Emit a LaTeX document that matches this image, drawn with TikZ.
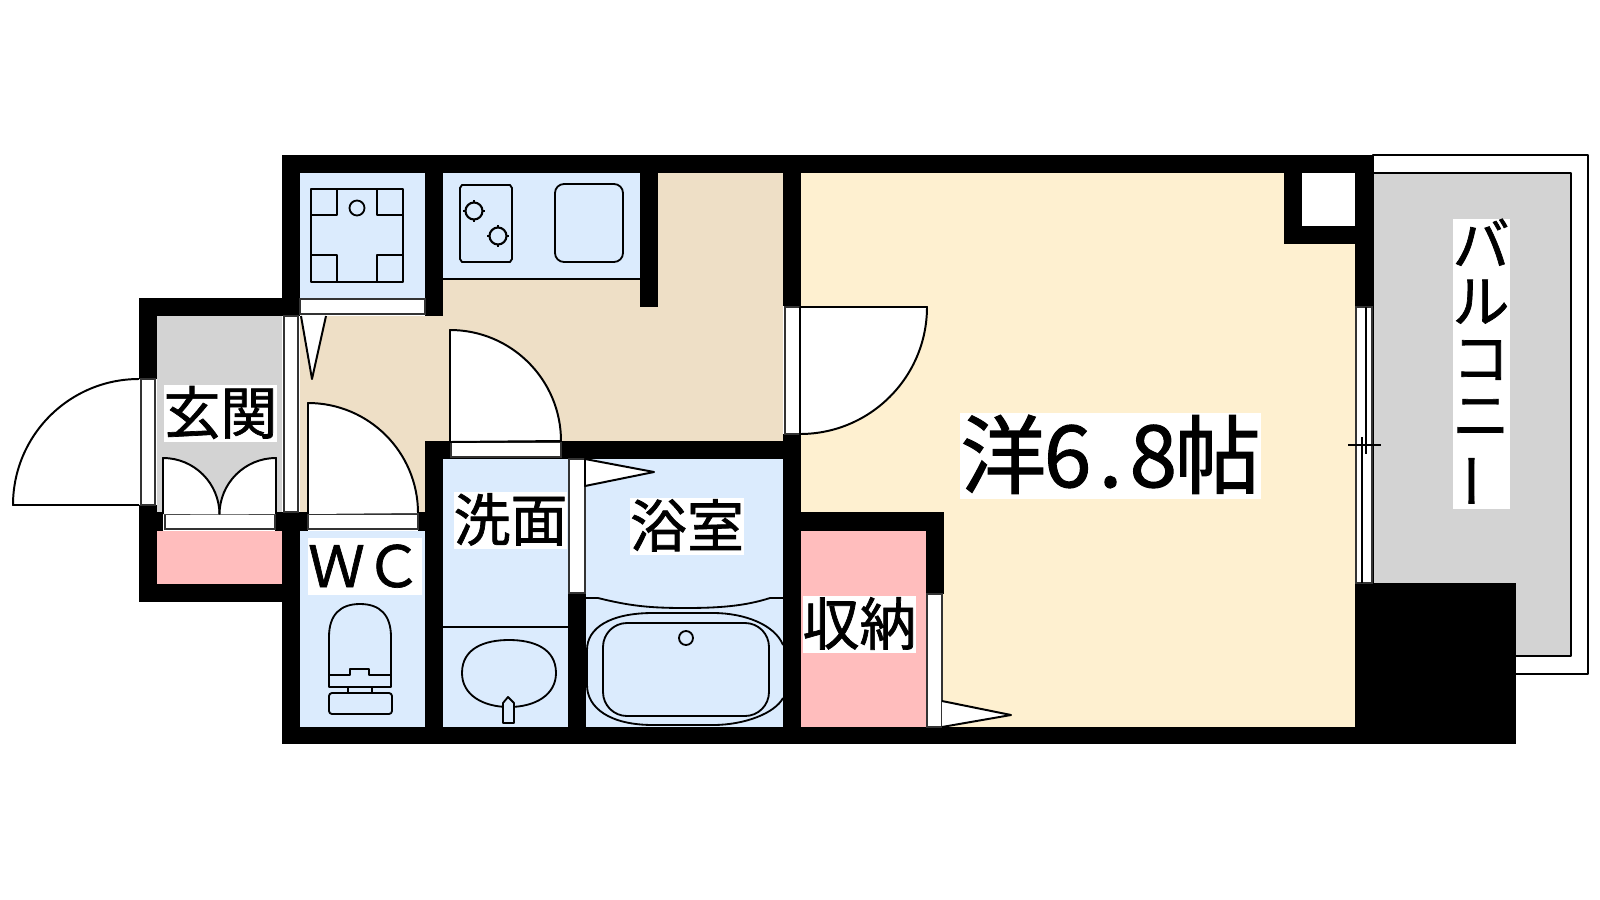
\documentclass[tikz,border=0pt]{standalone}
\usepackage{fontspec}
\setmainfont[FakeBold=1.2]{Noto Sans CJK JP}
\usepackage{tikz}
\definecolor{bluefloor}{RGB}{219,235,253}
\definecolor{beigefloor}{RGB}{238,223,198}
\definecolor{creamfloor}{RGB}{254,240,208}
\definecolor{pinkfloor}{RGB}{255,189,189}
\definecolor{greyfloor}{RGB}{211,211,211}
\tikzstyle{wall} = [fill=black]
\tikzstyle{fixture} = [draw=black, line width=2.6pt, line join=round]
\tikzstyle{doorline} = [draw=black!80, line width=2pt, fill=white]
\tikzstyle{leaf} = [draw=black, line width=2.8pt, fill=white, line join=round]
\tikzstyle{roomtext} = [fill=white, inner sep=0pt, text height=2.45cm, text depth=0.4cm,
font=\fontsize{81pt}{81pt}\selectfont]
\tikzstyle{bigtext} = [fill=white, inner sep=0pt, text height=3.7cm, text depth=0.6cm,
font=\fontsize{122pt}{122pt}\selectfont]
\begin{document}
\begin{tikzpicture}[x=0.05cm, y=-0.05cm]
    \path[fill=white, use as bounding box] (0,0) rectangle (1600,900);

    % floors
    \fill[bluefloor] (300,173) rectangle (425,299);
    \fill[bluefloor] (443,173) rectangle (640,279);
    \fill[bluefloor] (300,531) rectangle (425,727);
    \fill[bluefloor] (443,459) rectangle (568,727);
    \fill[bluefloor] (586,459) rectangle (783,727);
    \fill[beigefloor] (300,316) rectangle (425,512);
    \fill[beigefloor] (425,279) rectangle (783,441);
    \fill[beigefloor] (658,173) rectangle (783,279);
    \fill[greyfloor] (157,316) rectangle (282,512);
    \fill[pinkfloor] (157,531) rectangle (282,584);
    \fill[creamfloor] (801,173) rectangle (1355,727);
    \fill[pinkfloor] (801,531) rectangle (926,727);
    \draw[fixture, fill=white] (1373,155) rectangle (1588,674);
    \draw[fixture, fill=greyfloor] (1373,173) rectangle (1571,656);

    % walls
    \fill[wall] (282,155) rectangle (1373,173);
    \fill[wall] (282,155) rectangle (300,316);
    \fill[wall] (425,155) rectangle (443,316);
    \fill[wall] (640,173) rectangle (658,307);
    \fill[wall] (783,173) rectangle (801,306);
    \fill[wall] (783,434) rectangle (801,744);
    \fill[wall] (139,298) rectangle (300,316);
    \fill[wall] (139,298) rectangle (157,379);
    \fill[wall] (139,505) rectangle (157,602);
    \fill[wall] (139,584) rectangle (282,602);
    \fill[wall] (157,512) rectangle (163,531);
    \fill[wall] (275,512) rectangle (308,531);
    \fill[wall] (418,512) rectangle (425,531);
    \fill[wall] (282,512) rectangle (300,744);
    \fill[wall] (425,441) rectangle (443,744);
    \fill[wall] (425,441) rectangle (801,459);
    \fill[wall] (568,593) rectangle (586,744);
    \fill[wall] (282,727) rectangle (1516,744);
    \fill[wall] (801,512) rectangle (944,531);
    \fill[wall] (926,512) rectangle (944,594);
    \fill[wall] (1355,155) rectangle (1373,307);
    \fill[wall] (1284,155) rectangle (1302,244);
    \fill[wall] (1284,226) rectangle (1373,244);
    \fill[white] (1302,173) rectangle (1355,226);
    \fill[wall] (1355,583) rectangle (1516,744);

    % door and window strips
    \draw[doorline] (300,299) rectangle (425,314);
    \draw[doorline] (284,316) rectangle (298,512);
    \draw[doorline] (141,379) rectangle (155,505);
    \draw[doorline] (165,514) rectangle (275,529);
    \draw[doorline] (308,514) rectangle (418,529);
    \draw[doorline] (451,442) rectangle (561,457);
    \draw[doorline] (785,307) rectangle (800,434);
    \draw[doorline] (569,459) rectangle (585,593);
    \draw[doorline] (927,594) rectangle (942,727);
    \draw[doorline] (1356,307) rectangle (1372,583);
    \draw[fixture] (1366,307) -- (1366,454);
    \draw[fixture] (1362,437) -- (1362,583);
    \draw[fixture] (1348,445) -- (1381,445);

    % door leaves
    \draw[leaf] (139,505) -- (13,505) arc[start angle=180, end angle=270, radius=126] -- (139,379);
    \draw[leaf] (163,514) -- (163,458) arc[start angle=-90, end angle=0, radius=56.5];
    \draw[leaf] (276,514) -- (276,458) arc[start angle=270, end angle=180, radius=56.5];
    \draw[leaf] (308,514) -- (308,403) arc[start angle=-90, end angle=0, radius=110];
    \draw[leaf] (450,442) -- (450,330) arc[start angle=-90, end angle=0, radius=111] -- cycle;
    \draw[leaf] (800,434) arc[start angle=90, end angle=0, radius=127] -- (800,307) -- cycle;
    \draw[leaf] (301,316) -- (312,379) -- (326,316);
    \draw[leaf] (585,459) -- (654,472) -- (585,486) -- cycle;
    \draw[leaf] (942,701) -- (1011,715) -- (942,727);

    % table in the top left room
    \draw[fixture] (311,189) rectangle (403,282);
    \draw[fixture] (311,215) -- (337,215) -- (337,189);
    \draw[fixture] (403,215) -- (377,215) -- (377,189);
    \draw[fixture] (311,255) -- (337,255) -- (337,282);
    \draw[fixture] (403,255) -- (377,255) -- (377,282);
    \draw[fixture] (357,208) circle (7.5);

    % kitchen
    \draw[fixture, line width=2pt] (443,279) -- (640,279);
    \draw[fixture] (462,185) -- (510,185) -- (512,188) -- (512,259) -- (510,262) -- (462,262) -- (460,259) -- (460,188) -- cycle;
    \draw[fixture] (474,200) -- (474,222) (463,211) -- (485,211);
    \draw[fixture, fill=bluefloor, line width=3pt] (474,211) circle (8.5);
    \draw[fixture] (498,225) -- (498,247) (487,236) -- (509,236);
    \draw[fixture, fill=bluefloor, line width=3pt] (498,236) circle (8.5);
    \draw[fixture, rounded corners=0.45cm] (555,184) rectangle (623,262);

    % toilet
    \draw[fixture] (329,687) -- (329,637) .. controls (329,615) and (340,604) .. (360,604)
    .. controls (380,604) and (391,615) .. (391,637) -- (391,687) -- cycle;
    \draw[fixture] (329,675) -- (350,675) -- (350,669) -- (369,669) -- (369,675) -- (391,675);
    \draw[fixture] (348,687) -- (348,693) (372,687) -- (372,693);
    \draw[fixture, rounded corners=0.15cm] (329,693) rectangle (392,714);

    % washbasin
    \draw[fixture, line width=2pt] (443,627) -- (568,627);
    \draw[fixture] (462,673) .. controls (462,648) and (485,640) .. (509,640)
    .. controls (533,640) and (556,648) .. (556,673)
    .. controls (556,695) and (535,707) .. (509,707)
    .. controls (483,707) and (462,695) .. (462,673) -- cycle;
    \draw[fixture, fill=bluefloor] (503,723) -- (503,703) -- (508,697) -- (514,703) -- (514,723) -- cycle;

    % bath
    \draw[fixture] (586,598) -- (598,598) .. controls (630,606) and (650,608) .. (685,608)
    .. controls (720,608) and (745,606) .. (770,598) -- (783,598);
    \draw[fixture] (783,645) .. controls (775,625) and (745,613) .. (713,613) -- (653,613)
    .. controls (610,613) and (587,628) .. (587,650) -- (587,685)
    .. controls (587,708) and (610,725) .. (653,725) -- (713,725)
    .. controls (745,725) and (775,713) .. (783,698);
    \draw[fixture, rounded corners=1.2cm] (603,623) rectangle (769,716);
    \draw[fixture] (686,638) circle (7);

    % names
    \node (genkan) [roomtext] at (220.5,413.5) {玄関};
    \node (wc) [roomtext] at (365,566.5) {ＷＣ};
    \node (senmen) [roomtext] at (510.5,520.5) {洗面};
    \node (yokushitsu) [roomtext] at (687,526.5) {浴室};
    \node (shuno) [roomtext] at (859.5,624.5) {収納};
    \node (yoshitsu) [bigtext] at (1110.5,456) {洋\makebox[.5em]{6}\makebox[.5em]{.}\makebox[.5em]{8}帖};
    \node (balcony) [fill=white, inner sep=0pt, text width=2.85cm, align=center,
    font=\fontsize{81pt}{81pt}\selectfont] at (1481,364)
    {バ\\ル\\コ\\ニ\\\rotatebox[origin=c]{90}{ー}};
\end{tikzpicture}
\end{document}
